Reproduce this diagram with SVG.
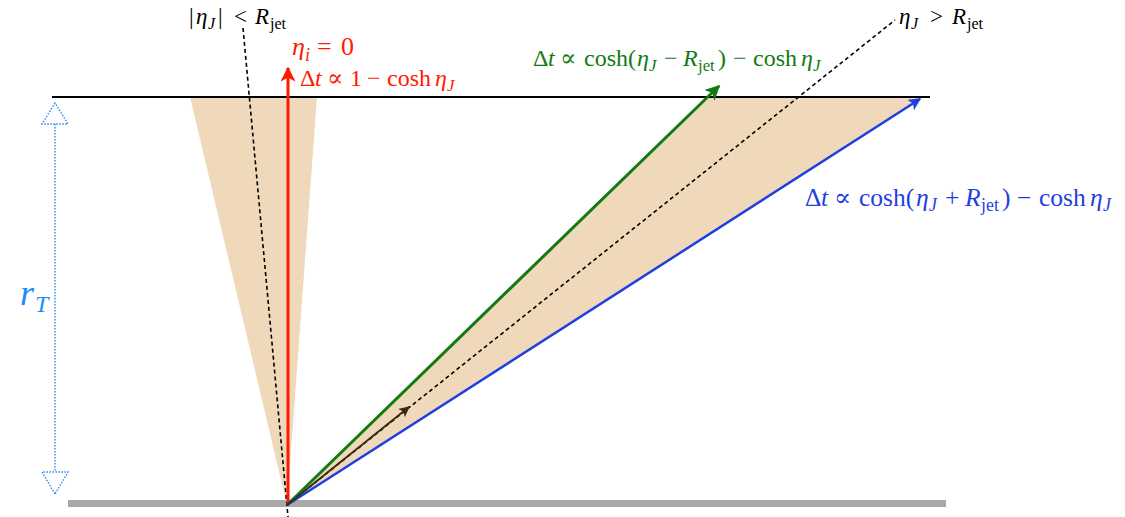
<svg xmlns="http://www.w3.org/2000/svg" width="1125" height="517" viewBox="0 0 1125 517">
<style>
text{font-family:"Liberation Serif","Times New Roman",serif;}
.i{font-style:italic;}
.s{font-size:70%;}
.p{font-family:"DejaVu Serif",serif;font-size:100%;}
.red{fill:#ff1a00;}
.grn{fill:#137a13;}
.blu{fill:#1f3fe0;}
.blk{fill:#000;}
.cone{fill:#f0d9ba;}
.dash{stroke:#000;stroke-width:1.6;stroke-dasharray:4 3;fill:none;}
</style>
<defs>
<marker id="mRed" viewBox="0 0 10 10" refX="9" refY="5" markerWidth="5" markerHeight="5" orient="auto" markerUnits="strokeWidth"><path d="M0,0 L10,5 L0,10 L2.5,5 z" fill="#ff1a00"/></marker>
<marker id="mGrn" viewBox="0 0 10 10" refX="9" refY="5" markerWidth="5" markerHeight="5" orient="auto" markerUnits="strokeWidth"><path d="M0,0 L10,5 L0,10 L2.5,5 z" fill="#137a13"/></marker>
<marker id="mBlu" viewBox="0 0 10 10" refX="9" refY="5" markerWidth="5" markerHeight="5" orient="auto" markerUnits="strokeWidth"><path d="M0,0 L10,5 L0,10 L2.5,5 z" fill="#1f3fe0"/></marker>
<marker id="mBrn" viewBox="0 0 10 10" refX="9" refY="5" markerWidth="6" markerHeight="6" orient="auto" markerUnits="strokeWidth"><path d="M0,0 L10,5 L0,10 L2.5,5 z" fill="#3a2a10"/></marker>
</defs>
<g id="surfaces">
<polygon class="cone" points="190,97 317,97 287,505"/>
<polygon class="cone" points="287,505 709,97 924,97"/>
<rect x="68" y="500" width="878" height="7" fill="#a8a8a8"/>
<line x1="52" y1="97" x2="930" y2="97" stroke="#000" stroke-width="2"/>
</g>
<g id="connectors">
<line class="dash" x1="243" y1="28" x2="288" y2="517"/>
<line class="dash" x1="287" y1="505" x2="895" y2="20"/>
<line x1="288" y1="505" x2="288" y2="68" stroke="#ff1a00" stroke-width="3" marker-end="url(#mRed)"/>
<line x1="287" y1="505" x2="719" y2="86" stroke="#137a13" stroke-width="3" marker-end="url(#mGrn)"/>
<line x1="287" y1="505" x2="920" y2="99" stroke="#1f3fe0" stroke-width="2.5" marker-end="url(#mBlu)"/>
<line x1="287" y1="505" x2="409" y2="407" stroke="#3a2a10" stroke-width="1.8" marker-end="url(#mBrn)"/>
</g>
<g id="dimension" stroke="#2a8af0" stroke-width="1.4" stroke-dasharray="1.5 1.5" fill="none">
<line x1="55" y1="124" x2="55" y2="472"/>
<polygon points="55,103 42,124 68,124"/>
<polygon points="55,494 42,472 68,472"/>
</g>
<g id="labels">
<text font-size="36" fill="#1a8cff" class="i"><tspan x="20" y="305">r</tspan><tspan x="35" y="312" font-size="24">T</tspan></text>
<text font-size="23" class="blk"><tspan x="189" y="24">|</tspan><tspan class="i" x="196" y="24">η</tspan><tspan class="i s" x="208" y="29">J</tspan><tspan x="218" y="24">|</tspan><tspan x="234" y="24">&lt;</tspan><tspan class="i" x="255" y="24">R</tspan><tspan class="s" x="270" y="29">jet</tspan></text>
<text font-size="26" class="red"><tspan class="i" x="292" y="55">η</tspan><tspan class="i s" x="305" y="61">i</tspan><tspan x="317" y="55">=</tspan><tspan x="341" y="55">0</tspan></text>
<text font-size="24" class="red"><tspan x="300" y="86">Δ</tspan><tspan class="i" x="315" y="86">t</tspan><tspan class="p" x="327" y="86">∝</tspan><tspan x="350" y="86">1</tspan><tspan x="367" y="86">−</tspan><tspan x="387" y="86">cosh</tspan><tspan class="i" x="435" y="86">η</tspan><tspan class="i s" x="447" y="91">J</tspan></text>
<text font-size="24" class="grn"><tspan x="533" y="66">Δ</tspan><tspan class="i" x="548" y="66">t</tspan><tspan class="p" x="560" y="66">∝</tspan><tspan x="584" y="66">cosh(</tspan><tspan class="i" x="637" y="66">η</tspan><tspan class="i s" x="649" y="71">J</tspan><tspan x="664" y="66">−</tspan><tspan class="i" x="683" y="66">R</tspan><tspan class="s" x="698" y="71">jet</tspan><tspan x="718" y="66">)</tspan><tspan x="733" y="66">−</tspan><tspan x="753" y="66">cosh</tspan><tspan class="i" x="801" y="66">η</tspan><tspan class="i s" x="813" y="71">J</tspan></text>
<text font-size="25.5" class="blu"><tspan x="805" y="206">Δ</tspan><tspan class="i" x="821" y="206">t</tspan><tspan class="p" x="834" y="206">∝</tspan><tspan x="859" y="206">cosh(</tspan><tspan class="i" x="916" y="206">η</tspan><tspan class="i s" x="929" y="211">J</tspan><tspan x="945" y="206">+</tspan><tspan class="i" x="965" y="206">R</tspan><tspan class="s" x="981" y="211">jet</tspan><tspan x="1002" y="206">)</tspan><tspan x="1017" y="206">−</tspan><tspan x="1039" y="206">cosh</tspan><tspan class="i" x="1090" y="206">η</tspan><tspan class="i s" x="1103" y="211">J</tspan></text>
<text font-size="23" class="blk"><tspan class="i" x="899" y="24">η</tspan><tspan class="i s" x="911" y="29">J</tspan><tspan x="930" y="24">&gt;</tspan><tspan class="i" x="952" y="24">R</tspan><tspan class="s" x="967" y="29">jet</tspan></text>
</g>
</svg>
